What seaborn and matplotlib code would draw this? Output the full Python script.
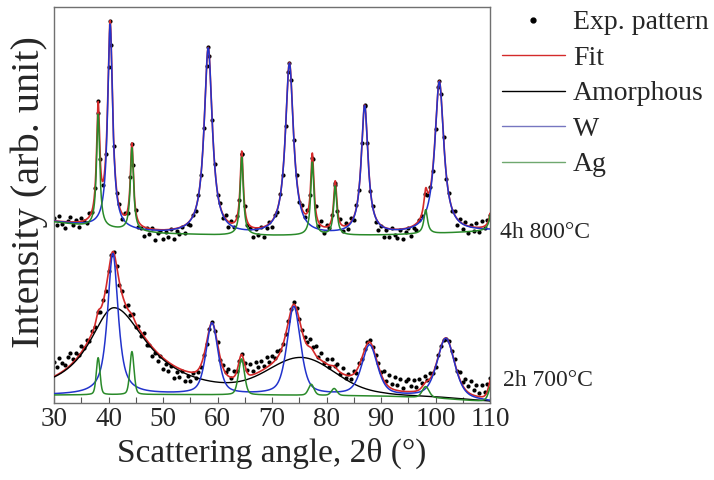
import numpy as np
import matplotlib
matplotlib.use("Agg")
import matplotlib.pyplot as plt
import seaborn as sns
from matplotlib.lines import Line2D
from matplotlib.ticker import MultipleLocator

# ---------------------------------------------------------------
# Recorded scans: intensity every 0.5 deg from 30 to 110 deg (2θ)
# ---------------------------------------------------------------
scan_start, scan_stop, scan_step = 30.0, 110.0, 0.5

# 4h 800°C (upper pattern, vertically shifted)
exp_800 = [
    185, 178, 187, 179, 175, 182, 186, 178, 183, 176,
    185, 182, 180, 190, 191, 215, 290, 244, 218, 249,
    336, 358, 257, 210, 199, 184, 190, 190, 226, 238,
    193, 176, 175, 167, 175, 169, 175, 163, 170, 172,
    164, 171, 166, 174, 164, 172, 169, 176, 170, 179,
    178, 188, 192, 208, 228, 275, 337, 347, 283, 239,
    208, 200, 185, 188, 176, 182, 176, 187, 203, 249,
    197, 178, 175, 166, 174, 168, 176, 166, 175, 181,
    176, 188, 191, 209, 228, 277, 331, 323, 263, 228,
    201, 198, 186, 193, 208, 244, 197, 177, 182, 170,
    178, 175, 188, 218, 192, 184, 172, 180, 174, 185,
    183, 198, 213, 260, 297, 260, 212, 197, 181, 173,
    177, 166, 173, 166, 175, 168, 165, 173, 164, 171,
    175, 167, 175, 173, 183, 187, 209, 208, 216, 232,
    274, 316, 309, 266, 224, 210, 192, 192, 178, 184,
    174, 181, 170, 178, 172, 180, 171, 182, 175, 183,
    188,
]
# extra points recorded at the reflection maxima
apex_800_x = [38.1, 40.3, 44.3, 58.3, 64.45, 73.2, 77.4, 81.6, 87.0, 100.7]
apex_800_y = [302, 382, 259, 356, 249, 340, 245, 220, 298, 322]

# 2h 700°C (lower pattern)
exp_700 = [
    41, 36, 45, 40, 38, 46, 50, 44, 50, 48,
    57, 55, 63, 62, 72, 76, 91, 91, 103, 112,
    132, 148, 151, 137, 118, 112, 97, 98, 88, 89,
    76, 77, 67, 70, 58, 58, 47, 50, 42, 47,
    34, 39, 32, 37, 25, 31, 26, 32, 22, 27,
    22, 30, 25, 31, 36, 48, 59, 74, 81, 72,
    61, 43, 38, 31, 34, 25, 32, 32, 42, 49,
    40, 33, 39, 32, 41, 36, 42, 37, 46, 41,
    47, 45, 52, 53, 59, 69, 82, 94, 101, 95,
    84, 73, 66, 61, 64, 56, 57, 46, 50, 40,
    44, 36, 44, 37, 39, 29, 35, 25, 29, 24,
    32, 30, 40, 44, 54, 61, 63, 56, 48, 40,
    31, 32, 22, 28, 19, 26, 18, 24, 15, 22,
    24, 17, 23, 16, 24, 20, 27, 23, 30, 30,
    36, 48, 57, 63, 64, 62, 52, 44, 32, 31,
    21, 24, 17, 22, 13, 18, 10, 18, 11, 19,
    25,
]

# ---------------------------------------------------------------
# Refined profile parameters
# ---------------------------------------------------------------
# 4h 800°C
bg_800_x = [30, 35, 40, 45, 50, 60, 70, 80, 90, 100, 110]
bg_800_y = [181, 177.5, 174.5, 171.5, 169.5, 168, 167.5, 167.5, 168, 169.5, 172]
w_800_pos = [40.3, 58.3, 73.2, 87.0, 100.7]
w_800_height = [204, 186, 171, 128, 151]
w_800_fwhm = [1.1, 1.8, 1.8, 1.5, 2.0]
ag_800_pos = [38.1, 44.3, 64.45, 77.4, 81.6, 98.2, 110.5]
ag_800_height = [113, 83, 78, 73, 49, 24, 40]
ag_800_fwhm = [0.7, 0.7, 0.7, 0.7, 0.7, 0.8, 0.8]
eta_800 = 1.0

# 2h 700°C
bg_700_x = [30, 50, 70, 90, 100, 110]
bg_700_y = [8, 8.5, 8, 7, 5, 1]
amor_700_pos = [41.0, 75.5]
amor_700_height = [87, 34]
amor_700_fwhm_left = [11.2, 14.0]
amor_700_fwhm_right = [14.8, 14.0]
amor_700_eta = [1.0, 0.0]
w_700_pos = [40.8, 59.0, 74.0, 87.9, 101.9]
w_700_height = [141, 71, 88, 50, 60]        # plotted W component
w_700_fit_height = [56, 58, 53, 47, 59]     # W share of the total fit
w_700_fwhm = [2.3, 2.6, 2.9, 3.4, 3.8]
w_700_eta = [0.8, 0.5, 0.5, 0.5, 0.5]
ag_700_pos = [38.1, 44.3, 64.4, 77.2, 81.4, 98.2, 110.6]
ag_700_height = [37, 43, 36, 11, 7, 11, 24]   # plotted Ag component
ag_700_fit_height = [8, 3, 24, 5, 3, 5, 30]   # Ag share of the total fit
ag_700_fwhm = [0.8, 0.9, 1.3, 1.2, 1.2, 1.5, 1.5]
ag_700_eta = [0.3] * 7

labels_legend = ["Exp. pattern", "Fit", "Amorphous", "W", "Ag"]
sample_labels = ["4h 800°C", "2h 700°C"]

col_fit = "#d42a2a"
col_amor = "#000000"
col_w = "#2233cc"
col_ag = "#2a8a2a"


def pseudo_voigt(x, pos, height, fwhm_l, fwhm_r, eta):
    w = np.where(x < pos, fwhm_l, fwhm_r)
    u = (x - pos) / w
    lor = 1.0 / (1.0 + 4.0 * u ** 2)
    gau = np.exp(-4.0 * np.log(2.0) * u ** 2)
    return height * (eta * lor + (1.0 - eta) * gau)


def peak_sum(x, pos, height, fwhm_l, fwhm_r=None, eta=1.0):
    fwhm_r = fwhm_l if fwhm_r is None else fwhm_r
    n = len(pos)
    eta = eta if np.ndim(eta) else [eta] * n
    total = np.zeros_like(x)
    for p, h, wl, wr, e in zip(pos, height, fwhm_l, fwhm_r, eta):
        total += pseudo_voigt(x, p, h, wl, wr, e)
    return total


tt = np.linspace(scan_start, scan_stop, 4001)
scan_x = np.arange(scan_start, scan_stop + scan_step / 2, scan_step)

# model curves, 4h 800°C
bg8 = np.interp(tt, bg_800_x, bg_800_y)
w8 = peak_sum(tt, w_800_pos, w_800_height, w_800_fwhm, eta=eta_800)
ag8 = peak_sum(tt, ag_800_pos, ag_800_height, ag_800_fwhm, eta=eta_800)
fit8 = bg8 + w8 + ag8

# model curves, 2h 700°C
bg7 = np.interp(tt, bg_700_x, bg_700_y)
amor7 = bg7 + peak_sum(tt, amor_700_pos, amor_700_height,
                       amor_700_fwhm_left, amor_700_fwhm_right, amor_700_eta)
w7 = bg7 + peak_sum(tt, w_700_pos, w_700_height, w_700_fwhm, eta=w_700_eta)
ag7 = bg7 + peak_sum(tt, ag_700_pos, ag_700_height, ag_700_fwhm, eta=ag_700_eta)
fit7 = (amor7
        + peak_sum(tt, w_700_pos, w_700_fit_height, w_700_fwhm, eta=w_700_eta)
        + peak_sum(tt, ag_700_pos, ag_700_fit_height, ag_700_fwhm, eta=ag_700_eta))

# ---------------------------------------------------------------
sns.set_theme(style="white")
plt.rcParams["font.family"] = ["Liberation Serif", "DejaVu Serif"]

fig = plt.figure(figsize=(7.14, 4.8), dpi=100)
ax = fig.add_axes([54 / 714, 1 - 403 / 480, (490 - 54) / 714, (403 - 7) / 480])

dot_kw = dict(color="black", s=9, linewidth=0, zorder=2, legend=False)
sns.scatterplot(x=scan_x, y=exp_800, ax=ax, **dot_kw)
sns.scatterplot(x=apex_800_x, y=apex_800_y, ax=ax, **dot_kw)
sns.scatterplot(x=scan_x, y=exp_700, ax=ax, **dot_kw)

line_kw = dict(ax=ax, estimator=None, legend=False)
sns.lineplot(x=tt, y=fit8, color=col_fit, linewidth=1.2, zorder=3, **line_kw)
sns.lineplot(x=tt, y=w8 + bg8, color=col_w, linewidth=1.1, zorder=5, **line_kw)
sns.lineplot(x=tt, y=ag8 + bg8, color=col_ag, linewidth=1.1, zorder=6, **line_kw)

sns.lineplot(x=tt, y=fit7, color=col_fit, linewidth=1.2, zorder=3, **line_kw)
sns.lineplot(x=tt, y=amor7, color=col_amor, linewidth=1.0, zorder=4, **line_kw)
sns.lineplot(x=tt, y=w7, color=col_w, linewidth=1.1, zorder=5, **line_kw)
sns.lineplot(x=tt, y=ag7, color=col_ag, linewidth=1.1, zorder=6, **line_kw)

ax.set_xlim(30, 110)
ax.set_ylim(0, 396)
ax.set_yticks([])
ax.xaxis.set_major_locator(MultipleLocator(10))
ax.xaxis.set_minor_locator(MultipleLocator(5))
ax.tick_params(axis="x", which="both", direction="in", bottom=True, top=False,
               length=4.5, width=0.8, color="#555555", labelsize=19.5, pad=3)
for sp in ax.spines.values():
    sp.set_color("#707070")
    sp.set_linewidth(1.0)

ax.set_xlabel("Scattering angle, 2θ (°)", fontsize=24, labelpad=4)
ax.set_ylabel("Intensity (arb. unit)", fontsize=29)
ax.yaxis.set_label_coords(-0.014, 0.533)

fig.text(500 / 714, 1 - 232 / 480, sample_labels[0], fontsize=17,
         ha="left", va="center")
fig.text(503 / 714, 1 - 381 / 480, sample_labels[1], fontsize=17,
         ha="left", va="center")

handles = [
    Line2D([], [], ls="none", marker="o", ms=3.5, color="black"),
    Line2D([], [], color=col_fit, lw=1.0),
    Line2D([], [], color=col_amor, lw=1.0),
    Line2D([], [], color="#7676c0", lw=1.0),
    Line2D([], [], color="#6fa86f", lw=1.0),
]
fig.legend(handles, labels_legend, loc="upper left",
           bbox_to_anchor=(502 / 714, 1 - 10 / 480), frameon=False,
           fontsize=20, handlelength=2.25, handletextpad=0.3,
           labelspacing=0.36, borderpad=0, borderaxespad=0)

fig.savefig("out.png", dpi=100)
